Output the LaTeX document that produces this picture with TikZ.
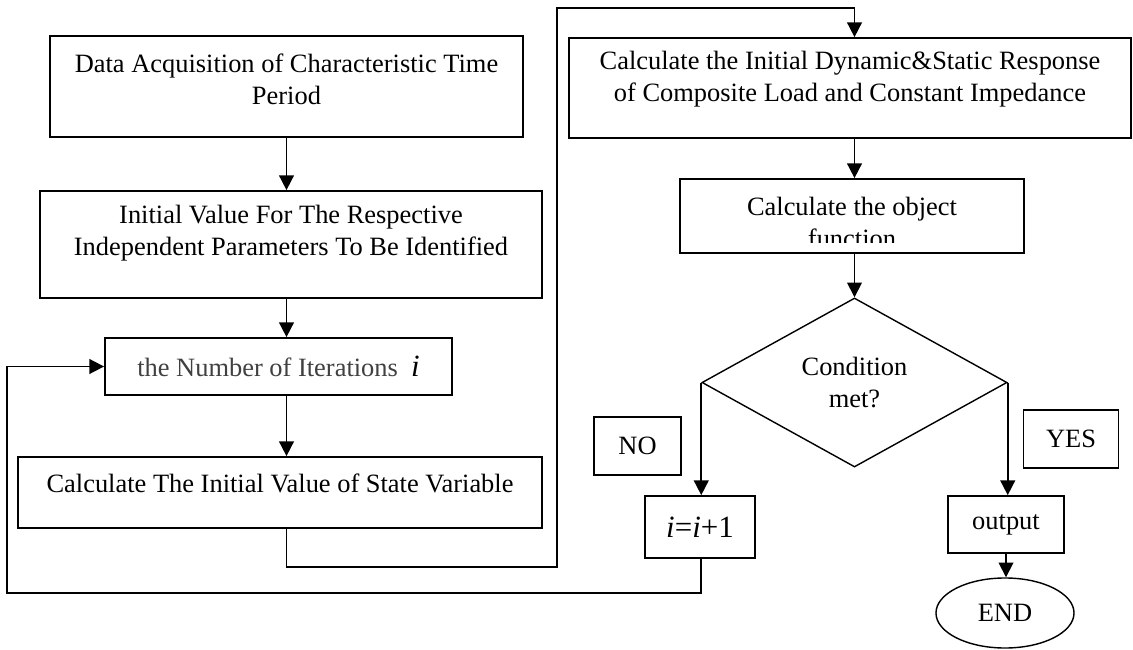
\documentclass[tikz,border=0pt]{standalone}
\usepackage{fontspec}
\setmainfont{Liberation Serif}
\usetikzlibrary{shapes.geometric,arrows.meta}

\begin{document}
\begin{tikzpicture}[x=0.025cm,y=-0.025cm,
  box/.style={draw, rectangle, line width=1.2pt, inner sep=0pt},
  txt/.style={align=center, font=\fontsize{18.8}{22.8}\selectfont, inner sep=0pt},
  arr/.style={-{Triangle[length=10.5pt,width=10.5pt]}, line width=1.2pt}]

\useasboundingbox (0,0) rectangle (1133,650);

% left column
\node[box, minimum width=11.825cm, minimum height=2.525cm] (acq) at (286.5,86.5) {};
\node[txt] (acqtext) at (286.5,79) {Data Acquisition of Characteristic Time\\Period};
\node[box, minimum width=12.55cm, minimum height=2.675cm] (init) at (291,244.5) {};
\node[txt] (inittext) at (291,233.5) {Initial Value For The Respective\\Independent Parameters To Be Identified};
\node[box, txt, minimum width=8.675cm, minimum height=1.425cm] (iter) at (278.5,366.5)
  {\textcolor{black!75}{the Number of Iterations}~~{\fontsize{22}{22}\selectfont\textit{i}}};
\node[box, minimum width=13.1cm, minimum height=1.775cm] (state) at (280,492.5) {};
\node[txt] (statetext) at (280,483) {Calculate The Initial Value of State Variable};

% right column
\node[box, minimum width=14.05cm, minimum height=2.5cm] (resp) at (850,88) {};
\node[txt] (resptext) at (850,79) {Calculate the Initial Dynamic\&Static Response\\of Composite Load and Constant Impedance};
\node[box, minimum width=8.6cm, minimum height=1.85cm] (obj) at (852,216) {};
\begin{scope}
\clip (obj.north west) rectangle ([yshift=7.8pt]obj.south east);
\node[txt] (objtext) at (852,222) {Calculate the object\\function};
\end{scope}
\node[draw, diamond, txt, line width=1pt, minimum width=7.625cm, minimum height=4.225cm] (cond) at (854.5,382.5) {Condition\\met?};
\node[box, txt, line width=1pt, minimum width=2.175cm, minimum height=1.45cm] (no) at (637.5,446) {NO};
\node[box, txt, line width=1pt, minimum width=2.3625cm, minimum height=1.45cm] (yes) at (1071,439) {YES};
\node[box, txt, minimum width=2.75cm, minimum height=1.55cm] (inc) at (700,527)
  {{\fontsize{22}{22}\selectfont\textit{i}=\textit{i}+1}};
\node[box, txt, minimum width=2.8875cm, minimum height=1.425cm] (out) at (1006,524.5) {output};
\node[draw, ellipse, txt, line width=1pt, minimum width=3.45cm, minimum height=1.75cm] (fin) at (1005,613) {END};

\coordinate (loopr) at (557,8);
\coordinate (loopl) at (7,593);

\draw[arr] (acq.south) -- (acq.south |- init.north);
\draw[arr] (init.south -| acq.south) -- (acq.south |- iter.north);
\draw[arr] (iter.south -| acq.south) -- (acq.south |- state.north);
\draw[arr] (state.south -| acq.south) -- ++(0,38) -| (loopr) -| (resp.north -| cond.north);
\draw[arr] (resp.south -| cond.north) -- (obj.north -| cond.north);
\draw[arr] (obj.south -| cond.north) -- (cond.north);
\draw[arr] (cond.west) -- (cond.west |- inc.north);
\draw[arr] (cond.east) -- (cond.east |- out.north);
\draw[arr] (out.south) -- (out.south |- fin.north);
\draw[arr] (inc.south -| cond.west) |- (loopl) |- (iter.west);
\end{tikzpicture}
\end{document}
